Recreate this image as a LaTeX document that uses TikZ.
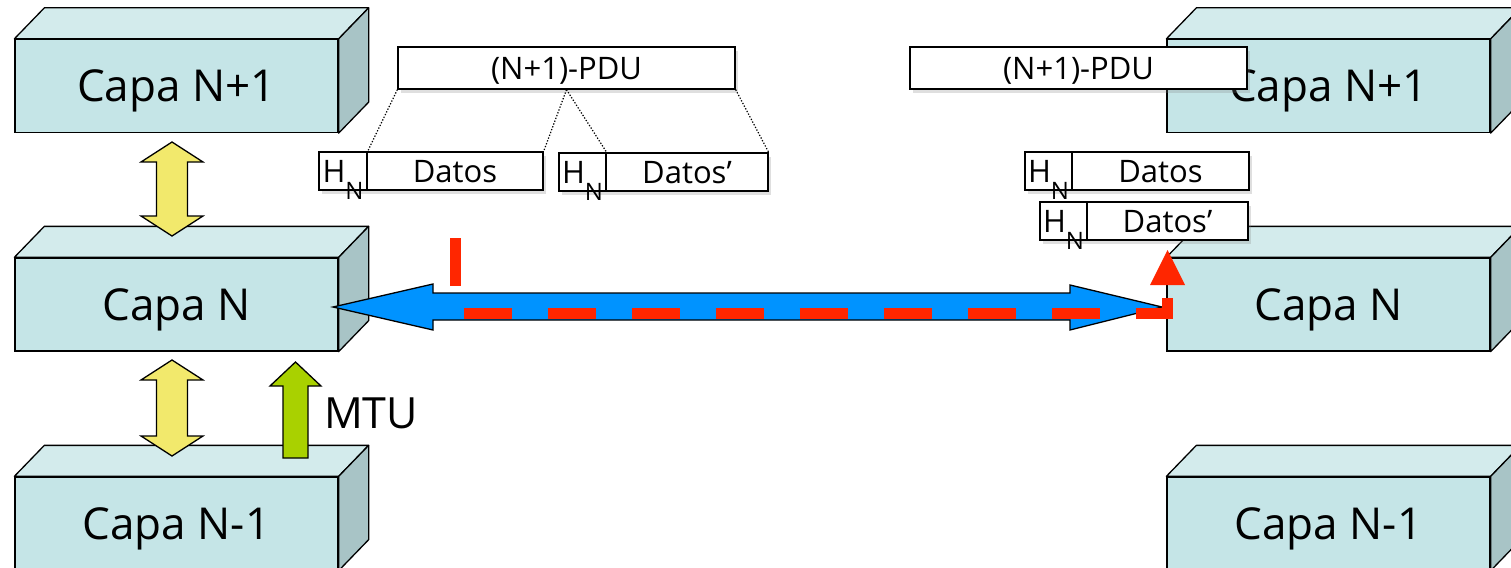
\documentclass[tikz,border=0pt]{standalone}
\usepackage{fontspec}
\setmainfont{Open Sans}
\usetikzlibrary{shadows,calc}
\definecolor{frontc}{HTML}{C5E5E7}
\definecolor{topc}{HTML}{D3EBEC}
\definecolor{sidec}{HTML}{A8C4C6}
\definecolor{yellowc}{HTML}{F2E96C}
\definecolor{greenc}{HTML}{A9D100}
\definecolor{bluec}{HTML}{0093FF}
\definecolor{redc}{HTML}{FF2600}
\tikzset{
  layer/.style={draw=black, line width=1.3pt, fill=frontc, minimum width=323pt, minimum height=93pt, inner sep=0pt, text depth=0pt, font=\fontsize{44}{50}\selectfont},
  topface/.style={draw=black, line width=1.3pt, fill=topc, line join=round},
  sideface/.style={draw=black, line width=1.3pt, fill=sidec, line join=round},
  pdubox/.style={draw=black, line width=1.3pt, fill=white, minimum height=42pt, inner sep=0pt, text depth=0pt, font=\fontsize{31}{36}\selectfont, drop shadow={shadow xshift=3pt, shadow yshift=-4pt, opacity=0.25}},
  fragbox/.style={draw=black, line width=1.3pt, fill=white, minimum height=38pt, inner sep=0pt, text height=22pt, text depth=0pt, font=\fontsize{31}{36}\selectfont, drop shadow={shadow xshift=3pt, shadow yshift=-4pt, opacity=0.25}},
  dotline/.style={line width=1.2pt, dash pattern=on 1.3pt off 1.7pt},
  blockarrow/.style={draw=black, line width=1.3pt, line join=miter},
}
\newcommand\layerbox[4]{%
  \node[layer] (#1) at (#2,#3) {#4};
  \filldraw[topface] (#1.north west) -- ($(#1.north west)+(30,-31)$) -- ($(#1.north east)+(30,-31)$) -- (#1.north east) -- cycle;
  \filldraw[sideface] (#1.north east) -- ($(#1.north east)+(30,-31)$) -- ($(#1.south east)+(30,-31)$) -- (#1.south east) -- cycle;
}
\newcommand\vdarrow[3]{% cx, ytop, ybot
  \filldraw[blockarrow, fill=yellowc] (#1,#2) -- (#1+31,#2+20) -- (#1+15.5,#2+20) -- (#1+15.5,#3-20) -- (#1+31,#3-20) -- (#1,#3) -- (#1-31,#3-20) -- (#1-15.5,#3-20) -- (#1-15.5,#2+20) -- (#1-31,#2+20) -- cycle;
}
\newcommand\HN{H\raisebox{-0.55em}[0pt][0pt]{\fontsize{24}{26}\selectfont N}}
\begin{document}
\begin{tikzpicture}[x=1pt,y=-1pt]
\useasboundingbox (0,0) rectangle (1511,567);
\clip (0,0) rectangle (1511,567);
% left layers
\layerbox{ln1}{176.5}{86}{Capa N+1}
\layerbox{ln}{176.5}{304.5}{Capa N}
\layerbox{lnm1}{176.5}{523.5}{Capa N-1}
% right layers
\layerbox{rn1}{1328.5}{86}{Capa N+1}
\layerbox{rn}{1328.5}{304.5}{Capa N}
\layerbox{rnm1}{1328.5}{523.5}{Capa N-1}
% left PDU and fragments
\node[pdubox, minimum width=337pt] (pduL) at (566.5,68) {(N+1)-PDU};
\node[fragbox, minimum width=48pt] (hL1) at (343,171) {\HN};
\node[fragbox, minimum width=176pt] (dL1) at (455,171) {Datos};
\node[fragbox, minimum width=47pt] (hL2) at (582.5,172) {\HN};
\node[fragbox, minimum width=162pt] (dL2) at (687,172) {Datos’};
\draw[dotline] (pduL.south west) -- (hL1.north east);
\draw[dotline] (pduL.south) -- (dL1.north east);
\draw[dotline] (pduL.south) -- (hL2.north east);
\draw[dotline] (pduL.south east) -- (dL2.north east);
% right PDU and fragments
\node[pdubox, minimum width=337pt] (pduR) at (1078.5,68) {(N+1)-PDU};
\node[fragbox, minimum width=47pt] (hR1) at (1048.5,171) {\HN};
\node[fragbox, minimum width=177pt] (dR1) at (1160.5,171) {Datos};
\node[fragbox, minimum width=47pt] (hR2) at (1063.5,221) {\HN};
\node[fragbox, minimum width=161pt] (dR2) at (1167.5,221) {Datos’};
% interlayer arrows
\vdarrow{172}{142}{236}
\vdarrow{172}{360}{456}
\filldraw[blockarrow, fill=greenc] (295.5,362) -- (321,386) -- (308,386) -- (308,458) -- (283,458) -- (283,386) -- (270,386) -- cycle;
\node[font=\fontsize{43}{48}\selectfont] (mtu) at (371,413) {MTU};
% peer arrow
\filldraw[blockarrow, fill=bluec] (333,307) -- (433,284) -- (433,293) -- (1070,293) -- (1070,285) -- (1162,307) -- (1070,330) -- (1070,320) -- (433,320) -- (433,330) -- cycle;
\draw[redc, line width=11pt, dash pattern=on 48pt off 36pt, line join=miter] (455,238) |- (1167.5,313.5) -- (1167.5,285);
\fill[redc] (1150,285) -- (1185,285) -- (1167.5,250) -- cycle;
\end{tikzpicture}
\end{document}
